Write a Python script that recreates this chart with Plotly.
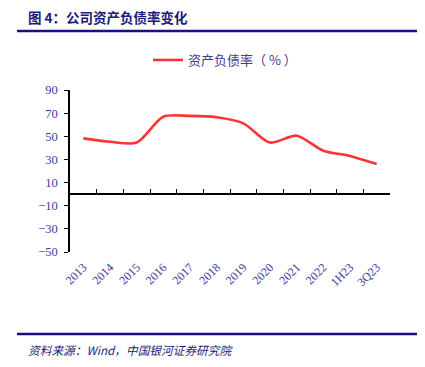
import plotly.graph_objects as go

categories = ["2013", "2014", "2015", "2016", "2017", "2018", "2019", "2020", "2021", "2022", "1H23", "3Q23"]
debt_ratio = [48.2, 45.3, 44.6, 66.9, 67.6, 66.4, 61.2, 44.6, 50.5, 37.5, 33.0, 26.0]
y_tickvals = [90, 70, 50, 30, 10, -10, -30, -50]
y_ticktext = ["90", "70", "50", "30", "10", "−10", "−30", "−50"]
series_name = "资产负债率（ % ）"
title_text = "图 4：公司资产负债率变化"
source_text = "资料来源：Wind，中国银河证券研究院"

W, H = 425, 367
L, R, T, B = 70, 35, 90, 115
pw, ph = W - L - R, H - T - B

def px(x):
    return (x - L) / pw

def py(y):
    return (H - B - y) / ph

navy = "#1c1c78"
tickcol = "#3c3ca0"

fig = go.Figure()
fig.add_trace(go.Scatter(
    x=categories, y=debt_ratio, mode="lines", name=series_name,
    line=dict(color="#ff3333", width=2.6, shape="spline", smoothing=0.8),
))
# invisible helper trace for the zero-crossing category axis
fig.add_trace(go.Scatter(
    x=categories, y=debt_ratio, xaxis="x2", mode="lines", showlegend=False,
    hoverinfo="skip", line=dict(width=0), opacity=0,
))

fig.update_layout(
    width=W, height=H, autosize=False,
    margin=dict(l=L, r=R, t=T, b=B, autoexpand=False),
    paper_bgcolor="white", plot_bgcolor="white",
    showlegend=True,
    legend=dict(orientation="h", x=px(148), xanchor="left", y=py(60), yanchor="middle",
                font=dict(family="Noto Sans CJK SC", size=13, color="#40408f"),
                bgcolor="rgba(0,0,0,0)", itemwidth=30),
    xaxis=dict(type="category", categoryorder="array", categoryarray=categories,
               range=[-0.5, len(categories) - 0.5], automargin=False,
               showline=False, showgrid=False, zeroline=False, ticks="",
               tickangle=-45, ticklabelstandoff=5,
               tickfont=dict(family="Liberation Serif", size=12, color=tickcol)),
    xaxis2=dict(type="category", categoryorder="array", categoryarray=categories,
                range=[-0.5, len(categories) - 0.5], overlaying="x", automargin=False,
                anchor="free", position=(0 - (-50)) / 140, side="bottom",
                showline=True, linecolor="black", linewidth=1.5,
                showgrid=False, zeroline=False, showticklabels=False,
                ticks="inside", ticklen=4, tickcolor="black", tickwidth=1.2,
                tickson="boundaries"),
    yaxis=dict(range=[-50, 90], tickvals=y_tickvals, ticktext=y_ticktext, automargin=False,
               showline=True, linecolor="black", linewidth=1.5,
               ticks="outside", ticklen=4, tickcolor="black", tickwidth=1.2,
               showgrid=False, zeroline=False, ticklabelstandoff=4,
               tickfont=dict(family="Liberation Serif", size=12.5, color=tickcol)),
)

fig.add_shape(type="line", xref="paper", yref="paper",
              x0=px(17), x1=px(417), y0=py(31), y1=py(31),
              line=dict(color="#1a1080", width=2.5))
fig.add_shape(type="line", xref="paper", yref="paper",
              x0=px(17), x1=px(417), y0=py(334), y1=py(334),
              line=dict(color="#1a1080", width=2.5))

fig.add_annotation(text="<b>" + title_text + "</b>", xref="paper", yref="paper",
                   x=px(26), y=py(17), xanchor="left", yanchor="middle", showarrow=False,
                   font=dict(family="Noto Sans CJK SC", size=13.5, color=navy))
fig.add_annotation(text="<i>" + source_text + "</i>", xref="paper", yref="paper",
                   x=px(26), y=py(349), xanchor="left", yanchor="middle", showarrow=False,
                   font=dict(family="Noto Sans CJK SC", size=11.7, color=navy))

fig.write_html("out.html", config={"displayModeBar": False},
               post_script="document.body.style.margin='0';document.body.style.overflow='hidden';")
